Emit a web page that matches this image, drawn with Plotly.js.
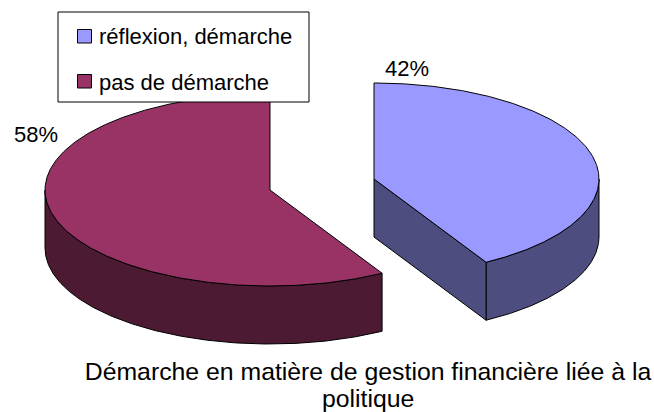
<!DOCTYPE html>
<html><head><meta charset="utf-8">
<script src="https://cdn.plot.ly/plotly-3.0.1.min.js"></script>
<style>html,body{margin:0;padding:0;background:#fff}</style></head>
<body><div id="chart" style="width:654px;height:412px"></div>
<script>
const categories = ["réflexion, démarche", "pas de démarche"];
const shares = [41.7, 58.3];
const topColors = ["#9999FF", "#993366"];
const sideColors = ["#4D4D80", "#4D1A33"];
const titleLines = ["Démarche en matière de gestion financière liée à la", "politique"];

// 3-D pie projection, in plot units (axes are 1:1 with the page)
const rx = 225, ry = 96, depth = 58;
const apexes = [[374, 179], [270, 190]];
const FONT = "Liberation Sans, Arial, sans-serif";

const boundary = shares[0] / (shares[0] + shares[1]) * 360;
const px = (c, deg) => c[0] + rx * Math.sin(deg * Math.PI / 180);
const py = (c, deg, d = 0) => c[1] - ry * Math.cos(deg * Math.PI / 180) + d;
function arc(c, a, b, d = 0) {
  const n = Math.max(2, Math.ceil(Math.abs(b - a) * 2)), p = [];
  for (let i = 0; i <= n; i++) { const t = a + (b - a) * i / n; p.push([px(c, t), py(c, t, d)]); }
  return p;
}
function poly(points, fill, name) {
  const closed = points.concat([points[0]]);
  return { type: "scatter", mode: "lines", name, fill: "toself", fillcolor: fill,
    x: closed.map(p => p[0]), y: closed.map(p => p[1]),
    line: { color: "#000", width: 1 }, hoverinfo: "name", showlegend: false };
}
const A = apexes[0], B = apexes[1];
const traces = [
  poly(arc(A, 90, boundary).concat(arc(A, boundary, 90, depth)), sideColors[0], categories[0]),
  poly([A, [px(A, boundary), py(A, boundary)], [px(A, boundary), py(A, boundary, depth)], [A[0], A[1] + depth]], sideColors[0], categories[0]),
  poly([A].concat(arc(A, 0, boundary)), topColors[0], categories[0]),
  poly(arc(B, boundary, 270).concat(arc(B, 270, boundary, depth)), sideColors[1], categories[1]),
  poly([B].concat(arc(B, boundary, 360)), topColors[1], categories[1])
];

const pctLabels = shares.map(s => Math.round(s) + "%");
const annotations = [
  { x: 407, y: 68, text: pctLabels[0] },
  { x: 36, y: 134, text: pctLabels[1] },
  { x: 97, y: 36, text: categories[0], xanchor: "left" },
  { x: 97, y: 82, text: categories[1], xanchor: "left" },
  { x: 368, y: 398, text: titleLines[1], font: { family: FONT, size: 24.8, color: "#000" } }
].map(a => Object.assign({ xref: "x", yref: "y", showarrow: false, xanchor: "center", yanchor: "middle",
  font: { family: FONT, size: 22, color: "#000" } }, a));

const shapes = [
  { type: "rect", xref: "x", yref: "y", x0: 58, x1: 309, y0: 12, y1: 102, fillcolor: "#fff", line: { color: "#000", width: 1 }, layer: "above" },
  { type: "rect", xref: "x", yref: "y", x0: 77.5, x1: 91.5, y0: 29.5, y1: 43, fillcolor: topColors[0], line: { color: "#000", width: 1 }, layer: "above" },
  { type: "rect", xref: "x", yref: "y", x0: 77.5, x1: 91.5, y0: 74.5, y1: 88, fillcolor: topColors[1], line: { color: "#000", width: 1 }, layer: "above" }
];

Plotly.newPlot("chart", traces, {
  width: 654, height: 412, margin: { l: 0, r: 0, t: 0, b: 0 },
  paper_bgcolor: "#fff", plot_bgcolor: "#fff", showlegend: false,
  xaxis: { range: [0, 654], visible: false, fixedrange: true },
  yaxis: { range: [412, 0], visible: false, fixedrange: true },
  title: { text: titleLines[0], x: 368 / 654, xanchor: "center", y: 1 - 371 / 412, yanchor: "middle",
    font: { family: FONT, size: 24.8, color: "#000" } },
  annotations, shapes
}, { displayModeBar: false, staticPlot: true });
</script></body></html>
